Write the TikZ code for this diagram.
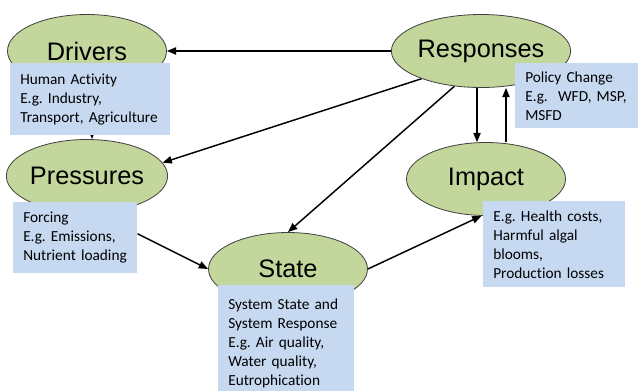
\documentclass[tikz,border=0pt]{standalone}
\usepackage{fontspec}
\setmainfont{Carlito}[Ligatures=NoCommon]
\newfontfamily\bubblefont{Liberation Sans}
\usetikzlibrary{shapes.geometric,arrows.meta,backgrounds}
\frenchspacing

\definecolor{bubblegreen}{RGB}{195,214,155}
\definecolor{noteblue}{RGB}{198,217,241}

\tikzset{
    bubble/.style={ellipse, draw=black!75, line width=0.6pt, fill=bubblegreen,
        minimum width=119.25pt, minimum height=54.75pt, inner sep=0pt,
        font=\bubblefont\fontsize{19}{22}\selectfont},
    note/.style={rectangle, fill=noteblue, anchor=north west, align=left,
        inner xsep=7.5pt, inner ysep=0pt,
        font=\fontsize{11.5}{14.25}\selectfont},
    flow/.style={line width=1.1pt, -{Triangle[length=7pt,width=5.5pt]}},
}

\begin{document}
\begin{tikzpicture}[x=0.75pt, y=-0.75pt]
    \useasboundingbox (0,0) rectangle (639,390);
    % the five stages
    \node[bubble] (drivers)   at (87,51)   {Drivers};
    \node[bubble] (pressures) at (87,176)  {Pressures};
    \node[bubble] (responses) at (481,51)  {Responses};
    \node[bubble] (impact)    at (486,179) {Impact};
    \node[bubble] (state)     at (288,269) {State};
    % notes under each stage
    \node[note, text width=105pt, minimum height=54pt] (drvnote) at (10,63)
        {Human Activity\\E.g. Industry,\\Transport, Agriculture};
    \node[note, text width=78pt, minimum height=53.25pt] (prsnote) at (13,202)
        {Forcing\\E.g. Emissions,\\Nutrient loading};
    \node[note, text width=77.25pt, minimum height=48.75pt] (rspnote) at (515,63)
        {Policy Change\\E.g.~~WFD, MSP,\\MSFD};
    \node[note, text width=91.5pt, minimum height=64.5pt] (impnote) at (483,201)
        {E.g. Health costs,\\Harmful algal\\blooms,\\Production losses};
    \node[note, text width=87pt, minimum height=87.75pt] (stanote) at (218,285)
        {System State and\\System Response\\E.g. Air quality,\\Water quality,\\Eutrophication};
    % arrows sit behind the shapes
    \begin{scope}[on background layer]
        \draw[flow] ([xshift=3.75pt]drivers.south) -- ([xshift=3.75pt]pressures.north);
        \draw[flow] (responses.west) -- (drivers.east);
        \draw[flow] (responses.205) -- (pressures.10);
        \draw[flow] (responses.233) -- (state.north);
        \draw[flow] ([xshift=-3pt]responses.south) -- ([xshift=-3pt]responses.south |- impact.north);
        \draw[flow] ([xshift=15pt]impact.north) -- ([xshift=15pt]impact.north |- responses.south);
        \draw[flow] ([yshift=3pt]prsnote.east) -- (state.west);
        \draw[flow] (state.east) -- (impact.263);
    \end{scope}
\end{tikzpicture}
\end{document}
